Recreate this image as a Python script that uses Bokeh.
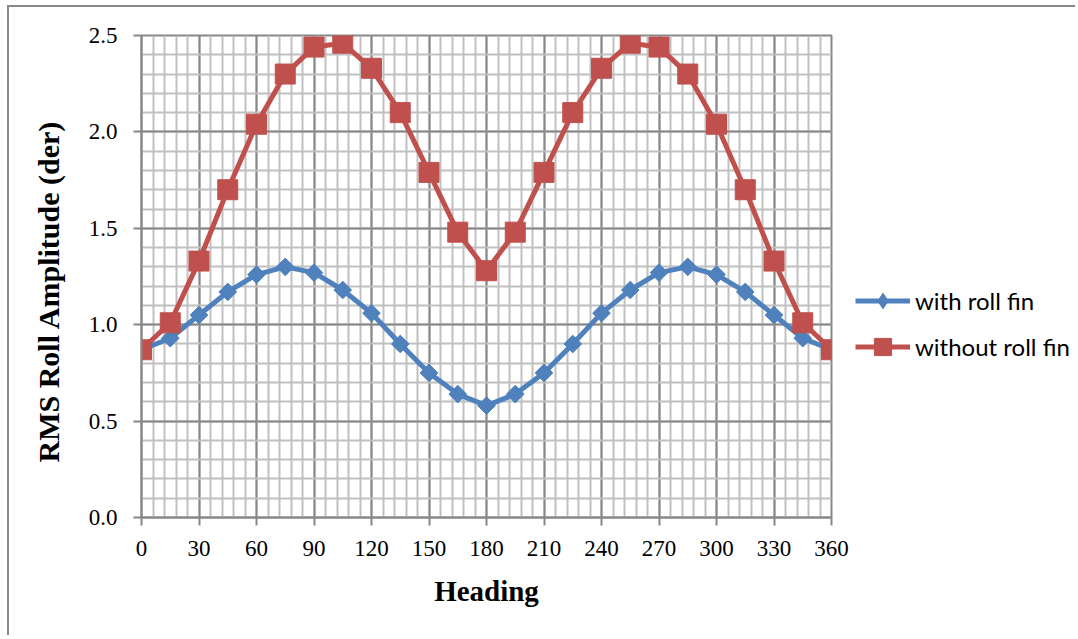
import numpy as np
from bokeh.plotting import figure
from bokeh.layouts import row
from bokeh.models import (SingleIntervalTicker, NumeralTickFormatter, Legend, LegendItem,
                          Range1d, Title)
from bokeh.embed import file_html
from bokeh.resources import INLINE

headings = [0, 15, 30, 45, 60, 75, 90, 105, 120, 135, 150, 165, 180,
            195, 210, 225, 240, 255, 270, 285, 300, 315, 330, 345, 360]
with_fin = [0.87, 0.93, 1.05, 1.17, 1.26, 1.30, 1.27, 1.18, 1.06, 0.90, 0.75, 0.64, 0.58,
            0.64, 0.75, 0.90, 1.06, 1.18, 1.27, 1.30, 1.26, 1.17, 1.05, 0.93, 0.87]
without_fin = [0.87, 1.01, 1.33, 1.70, 2.04, 2.30, 2.44, 2.46, 2.33, 2.10, 1.79, 1.48, 1.28,
               1.48, 1.79, 2.10, 2.33, 2.46, 2.44, 2.30, 2.04, 1.70, 1.33, 1.01, 0.87]
series_names = ["with roll fin", "without roll fin"]
x_title = "Heading"
y_title = "RMS Roll Amplitude (der)"

BLUE = "#4F81BD"
RED = "#C0504D"
MAJOR = "#878787"
MINOR = "#C0C0C0"
H = 628

p = figure(width=844, height=H, output_backend="svg", toolbar_location=None,
           x_range=Range1d(0, 360), y_range=Range1d(0, 2.5),
           min_border_left=132, min_border_right=22, min_border_top=28, min_border_bottom=118)

p.background_fill_color = "white"
p.border_fill_color = "white"
p.outline_line_color = MAJOR
p.outline_line_width = 2

p.xaxis.ticker = SingleIntervalTicker(interval=30, num_minor_ticks=5)
p.yaxis.ticker = SingleIntervalTicker(interval=0.5, num_minor_ticks=5)
p.yaxis.formatter = NumeralTickFormatter(format="0.0")

for g in (p.xgrid, p.ygrid):
    g.grid_line_color = MAJOR
    g.grid_line_width = 2
    g.minor_grid_line_color = MINOR
    g.minor_grid_line_width = 2

for ax in (p.xaxis, p.yaxis):
    ax.axis_line_color = MAJOR
    ax.axis_line_width = 2
    ax.major_tick_line_color = MAJOR
    ax.major_tick_line_width = 2
    ax.major_tick_out = 8
    ax.major_tick_in = 0
    ax.minor_tick_out = 0
    ax.minor_tick_in = 0
    ax.major_label_text_font = "Liberation Serif"
    ax.major_label_text_font_size = "23px"
    ax.major_label_text_color = "black"
    ax.axis_label_text_font = "Liberation Serif"
    ax.axis_label_text_font_style = "bold"
    ax.axis_label_text_font_size = "29px"
    ax.axis_label_text_color = "black"

p.xaxis.axis_label = x_title
p.xaxis.major_label_standoff = 15
p.xaxis.axis_label_standoff = 16
p.yaxis.major_label_standoff = 16

ytitle = Title(text=y_title, align="left", offset=55, standoff=41,
               text_font="Liberation Serif", text_font_style="bold",
               text_font_size="30px", text_color="black")
p.add_layout(ytitle, "left")

LW = 5
l1 = p.line(headings, with_fin, line_color=BLUE, line_width=LW)
m1 = p.scatter(headings, with_fin, marker="square", angle=np.pi / 4, size=12.5,
               fill_color=BLUE, line_color=BLUE)
l2 = p.line(headings, without_fin, line_color=RED, line_width=LW)
m2 = p.scatter(headings, without_fin, marker="square", size=20,
               fill_color=RED, line_color=RED)

# legend panel (its frame is aligned with the main plot's frame by the row layout)
q = figure(width=222, height=H, output_backend="svg", toolbar_location=None,
           x_axis_type=None, y_axis_type=None, x_range=Range1d(-20, -10), y_range=Range1d(-20, -10),
           min_border=0, outline_line_color=None)
q.xgrid.visible = False
q.ygrid.visible = False
q.border_fill_color = "white"
q.background_fill_color = "white"

# proxies use the first data point, which lies outside this panel's ranges
ql1 = q.line(headings[:1], with_fin[:1], line_color=BLUE, line_width=LW)
qm1 = q.scatter(headings[:1], with_fin[:1], marker="diamond", size=12.5,
                fill_color=BLUE, line_color=BLUE)
ql2 = q.line(headings[:1], without_fin[:1], line_color=RED, line_width=LW)
qm2 = q.scatter(headings[:1], without_fin[:1], marker="square", size=20,
                fill_color=RED, line_color=RED)

common = dict(orientation="vertical", background_fill_alpha=0, border_line_alpha=0,
              padding=0, margin=0, spacing=0, glyph_width=55, label_standoff=5,
              label_text_font="Lato", label_text_font_size="24px", label_text_color="black")
leg1 = Legend(items=[LegendItem(label=series_names[0], renderers=[ql1, qm1])],
              location=(2, 197), glyph_height=39, **common)
leg2 = Legend(items=[LegendItem(label=series_names[1], renderers=[ql2, qm2])],
              location=(2, 149), glyph_height=43, **common)
q.add_layout(leg1)
q.add_layout(leg2)

layout = row(p, q, styles={"border-left": "2px solid #898989", "border-top": "2px solid #898989",
                           "margin-left": "7px", "margin-top": "5px"})

open("out.html", "w").write(file_html(layout, INLINE))
